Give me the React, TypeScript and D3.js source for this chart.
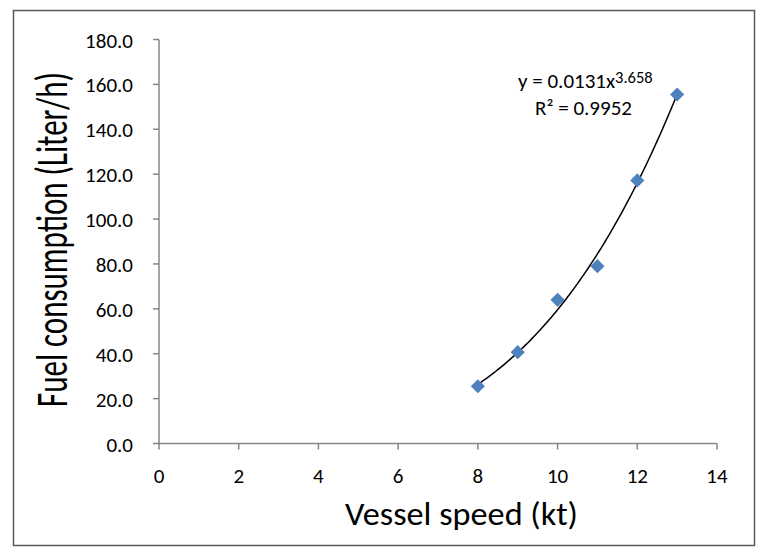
import * as d3 from 'd3';
import React from 'react';

// vessel speed (kt) vs fuel consumption (l/h)
const speeds = [8, 9, 10, 11, 12, 13];
const fuel = [25.5, 40.7, 64.0, 79.0, 117.2, 155.5];
const xTicks = [0, 2, 4, 6, 8, 10, 12, 14];
const yTicks = [0, 20, 40, 60, 80, 100, 120, 140, 160, 180];
const fitCoef = 0.0131;
const fitExp = 3.658;

const W = 759;
const H = 547;
const plot = { left: 159, right: 717, top: 39.5, bottom: 443.5 };
const font = "Calibri, Carlito, 'Open Sans', sans-serif";
const axisColor = '#868686';

export default function App() {
  const x = d3.scaleLinear().domain([0, 14]).range([plot.left, plot.right]);
  const y = d3.scaleLinear().domain([0, 180]).range([plot.bottom, plot.top]);

  // power trendline, sampled along the speed range of the data
  const fitXs = d3.range(speeds[0], speeds[speeds.length - 1] + 0.001, 0.05);
  const line = d3.line<number>()
    .x(d => x(d))
    .y(d => y(fitCoef * Math.pow(d, fitExp)));

  const diamond = d3.symbol().type(d3.symbolDiamond2).size(128)();

  return (
    <svg width={W} height={H} style={{ position: 'absolute', left: 0, top: 0, fontFamily: font }}>
      <rect x={0} y={0} width={W} height={H} fill="#fff" />
      <rect x={13.5} y={10.5} width={741} height={535} fill="#fff" stroke="#595959" strokeWidth={1.5} />

      {/* y axis */}
      <line x1={plot.left} x2={plot.left} y1={plot.top} y2={plot.bottom} stroke={axisColor} strokeWidth={1.5} />
      {yTicks.map(t => (
        <g key={'y' + t}>
          <line x1={plot.left - 6} x2={plot.left} y1={y(t)} y2={y(t)} stroke={axisColor} strokeWidth={1.5} />
          <text x={133} y={y(t) + 8} textAnchor="end" fontSize={21} fill="#000">{t.toFixed(1)}</text>
        </g>
      ))}

      {/* x axis */}
      <line x1={plot.left} x2={plot.right} y1={plot.bottom} y2={plot.bottom} stroke={axisColor} strokeWidth={1.5} />
      {xTicks.map(t => (
        <g key={'x' + t}>
          <line x1={x(t)} x2={x(t)} y1={plot.bottom} y2={plot.bottom + 6} stroke={axisColor} strokeWidth={1.5} />
          <text x={x(t)} y={483} textAnchor="middle" fontSize={21} fill="#000">{t}</text>
        </g>
      ))}

      {/* trendline */}
      <path d={line(fitXs) || ''} fill="none" stroke="#000" strokeWidth={1.5} />

      {speeds.map((s, i) => (
        <path key={s} d={diamond || ''} transform={`translate(${x(s)},${y(fuel[i])})`} fill="#4F81BD" />
      ))}

      {/* equation */}
      <text x={518} y={88} fontSize={21} fill="#000">
        y = 0.0131x<tspan dy={-5.5} fontSize={16.5}>3.658</tspan>
      </text>
      <text x={535} y={115} fontSize={21} fill="#000">R² = 0.9952</text>

      {/* axis titles */}
      <text x={345} y={525} fontSize={33} fill="#000" textLength={233} lengthAdjust="spacingAndGlyphs">Vessel speed (kt)</text>
      <text transform="translate(67,407) rotate(-90) scale(1,1.3)" fontSize={34} fill="#000" textLength={335} lengthAdjust="spacingAndGlyphs">
        Fuel consumption (Liter/h)
      </text>
    </svg>
  );
}
